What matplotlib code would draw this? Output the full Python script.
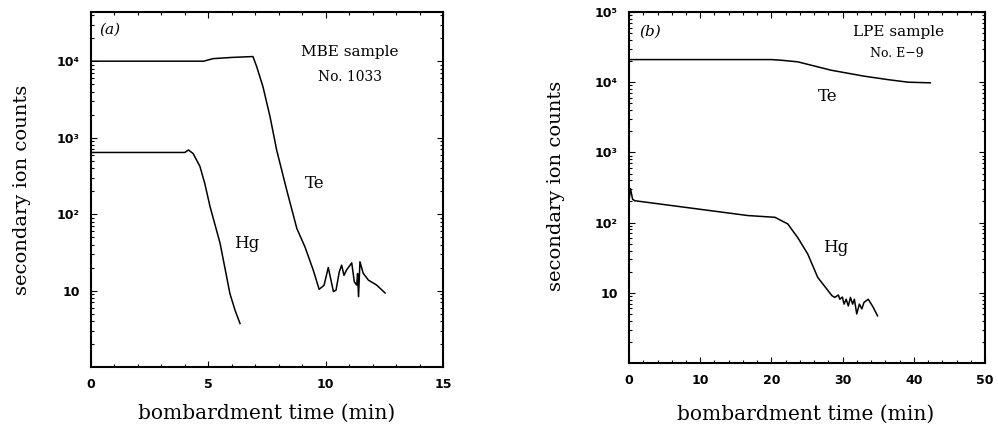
import matplotlib
matplotlib.use("Agg")
import matplotlib.pyplot as plt
from matplotlib.ticker import FixedLocator, FixedFormatter, LogLocator, NullFormatter, MultipleLocator

# ---- panel (a): MBE sample No. 1033 ----
te_a_time = [0, 4.8, 5.2, 6.0, 6.9, 7.06, 7.33, 7.63, 7.91, 8.34, 8.77, 9.12, 9.47, 9.72,
             9.93, 10.11, 10.33, 10.44, 10.58, 10.68, 10.78, 10.89, 11.11, 11.22, 11.32,
             11.36, 11.40, 11.46, 11.60, 11.82, 12.17, 12.53]
te_a_counts = [1.0e4, 1.0e4, 1.08e4, 1.12e4, 1.15e4, 8.5e3, 4.6e3, 1.87e3, 690, 206, 65, 37,
               18.5, 10.4, 11.7, 20, 9.7, 10.1, 17.6, 21.5, 15.8, 18.6, 23, 13, 11.8, 16.7,
               8.3, 23.8, 16.8, 13.7, 11.8, 9.3]
hg_a_time = [0, 4.0, 4.15, 4.35, 4.64, 4.85, 5.07, 5.5, 5.92, 6.14, 6.35]
hg_a_counts = [640, 640, 690, 620, 422, 250, 126, 41.5, 9.1, 5.5, 3.7]

# ---- panel (b): LPE sample No. E-9 ----
te_b_time = [0, 20, 21.5, 23.7, 28.4, 33.0, 36.3, 39.2, 42.3]
te_b_counts = [2.1e4, 2.1e4, 2.05e4, 1.95e4, 1.48e4, 1.22e4, 1.09e4, 1.0e4, 9.8e3]
hg_b_time = [0, 0.2, 0.5, 0.8, 16.7, 20.5, 22.3, 23.7, 25.1, 26.5, 28.5, 28.9, 29.4, 29.6,
             29.96, 30.2, 30.5, 30.8, 31.1, 31.4, 31.65, 31.98, 32.35, 32.7, 33.0, 33.6,
             34.3, 34.9]
hg_b_counts = [205, 306, 215, 205, 126, 119, 95.6, 61, 35.7, 16.6, 9.1, 8.6, 9.3, 8.1, 8.7,
               6.9, 8.1, 6.5, 8.6, 6.9, 8.1, 5.0, 6.9, 5.9, 7.3, 8.1, 6.2, 4.7]

xticks_a = [0, 5, 10, 15]
xticks_b = [0, 10, 20, 30, 40, 50]
yticks_a = [10, 100, 1000, 10000]
ylabels_a = ["10", "10²", "10³", "10⁴"]
yticks_b = [10, 100, 1000, 10000, 100000]
ylabels_b = ["10", "10²", "10³", "10⁴", "10⁵"]

serif = "DejaVu Serif"

fig = plt.figure(figsize=(9.98, 4.30), dpi=100)
ax1 = fig.add_axes([0.0912, 0.1465, 0.3527, 0.8256])
ax2 = fig.add_axes([0.6303, 0.1558, 0.3567, 0.8163])


def style_axis(ax, xmax, xticks, yticks, ylabels, ymax):
    ax.set_yscale("log")
    ax.set_xlim(0, xmax)
    ax.set_ylim(1, ymax)
    ax.xaxis.set_major_locator(FixedLocator(xticks))
    ax.xaxis.set_minor_locator(MultipleLocator(xticks[1] / 5))
    ax.yaxis.set_major_locator(FixedLocator(yticks))
    ax.yaxis.set_major_formatter(FixedFormatter(ylabels))
    ax.yaxis.set_minor_locator(LogLocator(base=10, subs=range(2, 10)))
    ax.yaxis.set_minor_formatter(NullFormatter())
    ax.tick_params(which="both", direction="in", top=True, right=True, width=0.8)
    ax.tick_params(which="major", length=4, pad=8)
    ax.tick_params(which="minor", length=2)
    for lab in ax.get_xticklabels() + ax.get_yticklabels():
        lab.set_fontweight("bold")
        lab.set_fontsize(9)
    for sp in ax.spines.values():
        sp.set_linewidth(1.5)


# panel (a)
ax1.plot(te_a_time, te_a_counts, color="black", lw=1.1)
ax1.plot(hg_a_time, hg_a_counts, color="black", lw=1.1)
style_axis(ax1, 15, xticks_a, yticks_a, ylabels_a, 4.4e4)
ax1.set_xlabel("bombardment time (min)", fontfamily=serif, fontsize=14.5)
ax1.set_ylabel("secondary ion counts", fontfamily=serif, fontsize=14)
ax1.xaxis.set_label_coords(0.5, -0.105)
ax1.yaxis.set_label_coords(-0.170, 0.5)
ax1.text(0.054, 0.949, "(a)", transform=ax1.transAxes, fontfamily=serif, style="italic",
         fontsize=11, ha="center", va="center")
ax1.text(0.736, 0.887, "MBE sample", transform=ax1.transAxes, fontfamily=serif,
         fontsize=11, ha="center", va="center")
ax1.text(0.736, 0.817, "No. 1033", transform=ax1.transAxes, fontfamily=serif,
         fontsize=10, ha="center", va="center")
ax1.text(0.636, 0.518, "Te", transform=ax1.transAxes, fontfamily=serif,
         fontsize=12, ha="center", va="center")
ax1.text(0.443, 0.349, "Hg", transform=ax1.transAxes, fontfamily=serif,
         fontsize=12, ha="center", va="center")

# panel (b)
ax2.plot(te_b_time, te_b_counts, color="black", lw=1.1)
ax2.plot(hg_b_time, hg_b_counts, color="black", lw=1.1)
style_axis(ax2, 50, xticks_b, yticks_b, ylabels_b, 1e5)
ax2.set_xlabel("bombardment time (min)", fontfamily=serif, fontsize=14.5)
ax2.set_ylabel("secondary ion counts", fontfamily=serif, fontsize=14)
ax2.xaxis.set_label_coords(0.497, -0.118)
ax2.yaxis.set_label_coords(-0.180, 0.504)
ax2.text(0.059, 0.943, "(b)", transform=ax2.transAxes, fontfamily=serif, style="italic",
         fontsize=11, ha="center", va="center")
ax2.text(0.758, 0.943, "LPE sample", transform=ax2.transAxes, fontfamily=serif,
         fontsize=11, ha="center", va="center")
ax2.text(0.753, 0.883, "No. E−9", transform=ax2.transAxes, fontfamily=serif,
         fontsize=9, ha="center", va="center")
ax2.text(0.559, 0.758, "Te", transform=ax2.transAxes, fontfamily=serif,
         fontsize=12, ha="center", va="center")
ax2.text(0.581, 0.330, "Hg", transform=ax2.transAxes, fontfamily=serif,
         fontsize=12, ha="center", va="center")

fig.savefig("out.png", dpi=100)
